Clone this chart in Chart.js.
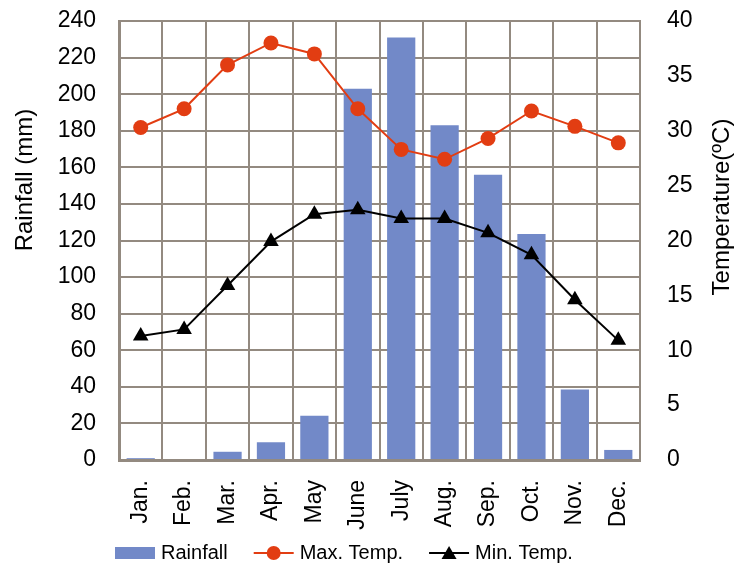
<!DOCTYPE html>
<html>
<head>
<meta charset="utf-8">
<script src="https://cdn.jsdelivr.net/npm/chart.js@4.4.1/dist/chart.umd.min.js"></script>
<style>
  html, body { margin: 0; padding: 0; background: #fff; }
</style>
</head>
<body>
<canvas id="climateChart" width="739" height="567"></canvas>
<script>
// Data
const months = ["Jan.", "Feb.", "Mar.", "Apr.", "May", "June", "July", "Aug.", "Sep.", "Oct.", "Nov.", "Dec."];
const rainfall = [1, 0, 4.5, 9.7, 24.2, 203, 231, 183, 156, 123.5, 38.6, 5.5];
const maxTemp = [30.3, 32.0, 36.0, 38.0, 37.0, 32.0, 28.3, 27.4, 29.3, 31.8, 30.4, 28.9];
const minTemp = [11.3, 11.9, 15.9, 19.9, 22.4, 22.8, 22.0, 22.0, 20.7, 18.7, 14.6, 10.9];
const rainTicks = [0, 240, 20];   // min, max, step
const tempTicks = [0, 40, 5];

const FONT = '"Liberation Sans", Arial, sans-serif';
const GRID = "#938a80";
const BAR = "#7289c8";
const RED = "#e23d12";

// axis titles, both read bottom-to-top
const axisTitles = {
  id: "axisTitles",
  afterDraw(chart) {
    const ctx = chart.ctx;
    ctx.save();
    ctx.fillStyle = "#000";
    ctx.font = "24px " + FONT;
    ctx.textAlign = "center";
    ctx.textBaseline = "middle";
    [["Rainfall (mm)", 25, 180], ["Temperature(\u00baC)", 722, 207]].forEach(([txt, x, y]) => {
      ctx.save();
      ctx.translate(x, y);
      ctx.rotate(-Math.PI / 2);
      ctx.fillText(txt, 0, 0);
      ctx.restore();
    });
    ctx.restore();
  }
};

// legend along the bottom: box for the bars, line + marker for the lines
const bottomLegend = {
  id: "bottomLegend",
  afterDraw(chart) {
    const ctx = chart.ctx;
    const y = 553;
    let x = 115;
    ctx.save();
    ctx.font = "20px " + FONT;
    ctx.textBaseline = "middle";
    ctx.textAlign = "left";
    chart.data.datasets.forEach((ds) => {
      const color = ds.backgroundColor;
      ctx.fillStyle = color;
      ctx.strokeStyle = color;
      if (ds.type !== "line") {
        ctx.fillRect(x, y - 6, 40, 12);
      } else {
        ctx.lineWidth = 2;
        ctx.beginPath(); ctx.moveTo(x, y); ctx.lineTo(x + 40, y); ctx.stroke();
        ctx.beginPath();
        if (ds.pointStyle === "circle") {
          ctx.arc(x + 20, y, 7, 0, Math.PI * 2);
        } else {
          ctx.moveTo(x + 20, y - 7); ctx.lineTo(x + 27.5, y + 6); ctx.lineTo(x + 12.5, y + 6); ctx.closePath();
        }
        ctx.fill();
      }
      x += 46;
      ctx.fillStyle = "#000";
      ctx.fillText(ds.label, x, y);
      x += ctx.measureText(ds.label).width + 26;
    });
    ctx.restore();
  }
};

new Chart(document.getElementById("climateChart"), {
  type: "bar",
  data: {
    labels: months,
    datasets: [
      {
        label: "Rainfall",
        data: rainfall,
        backgroundColor: BAR,
        yAxisID: "yRain",
        barPercentage: 0.65,
        categoryPercentage: 1,
        order: 3
      },
      {
        type: "line",
        label: "Max. Temp.",
        data: maxTemp,
        borderColor: RED,
        backgroundColor: RED,
        borderWidth: 2,
        pointStyle: "circle",
        pointRadius: 7.5,
        pointBorderWidth: 0,
        yAxisID: "yTemp",
        order: 1
      },
      {
        type: "line",
        label: "Min. Temp.",
        data: minTemp,
        borderColor: "#000",
        backgroundColor: "#000",
        borderWidth: 2,
        pointStyle: "triangle",
        pointRadius: 9,
        pointBorderWidth: 0,
        yAxisID: "yTemp",
        order: 2
      }
    ]
  },
  options: {
    responsive: false,
    animation: false,
    devicePixelRatio: 1,
    layout: { padding: { top: 21, left: 0, right: 0, bottom: 0 } },
    plugins: {
      tooltip: { enabled: false },
      legend: { display: false }
    },
    scales: {
      x: {
        grid: { color: GRID, lineWidth: 2, drawTicks: false, offset: true },
        border: { color: GRID, width: 3 },
        ticks: {
          color: "#000",
          font: { family: FONT, size: 23 },
          minRotation: 90,
          maxRotation: 90,
          autoSkip: false,
          padding: 20
        },
        afterFit: (s) => { s.height = 107; s.paddingLeft = 0; s.paddingRight = 0; }
      },
      yRain: {
        position: "left",
        min: rainTicks[0],
        max: rainTicks[1],
        grid: { color: GRID, lineWidth: 2, drawTicks: false },
        border: { color: GRID, width: 3 },
        ticks: {
          stepSize: rainTicks[2],
          color: "#000",
          font: { family: FONT, size: 23 },
          padding: 23
        },
        afterFit: (s) => { s.width = 119; s.paddingTop = 0; s.paddingBottom = 0; }
      },
      yTemp: {
        position: "right",
        min: tempTicks[0],
        max: tempTicks[1],
        grid: { display: false, drawTicks: false },
        border: { color: GRID, width: 2 },
        ticks: {
          stepSize: tempTicks[2],
          color: "#000",
          font: { family: FONT, size: 23 },
          padding: 27
        },
        afterFit: (s) => { s.width = 99; s.paddingTop = 0; s.paddingBottom = 0; }
      }
    }
  },
  plugins: [axisTitles, bottomLegend]
});
</script>
</body>
</html>
